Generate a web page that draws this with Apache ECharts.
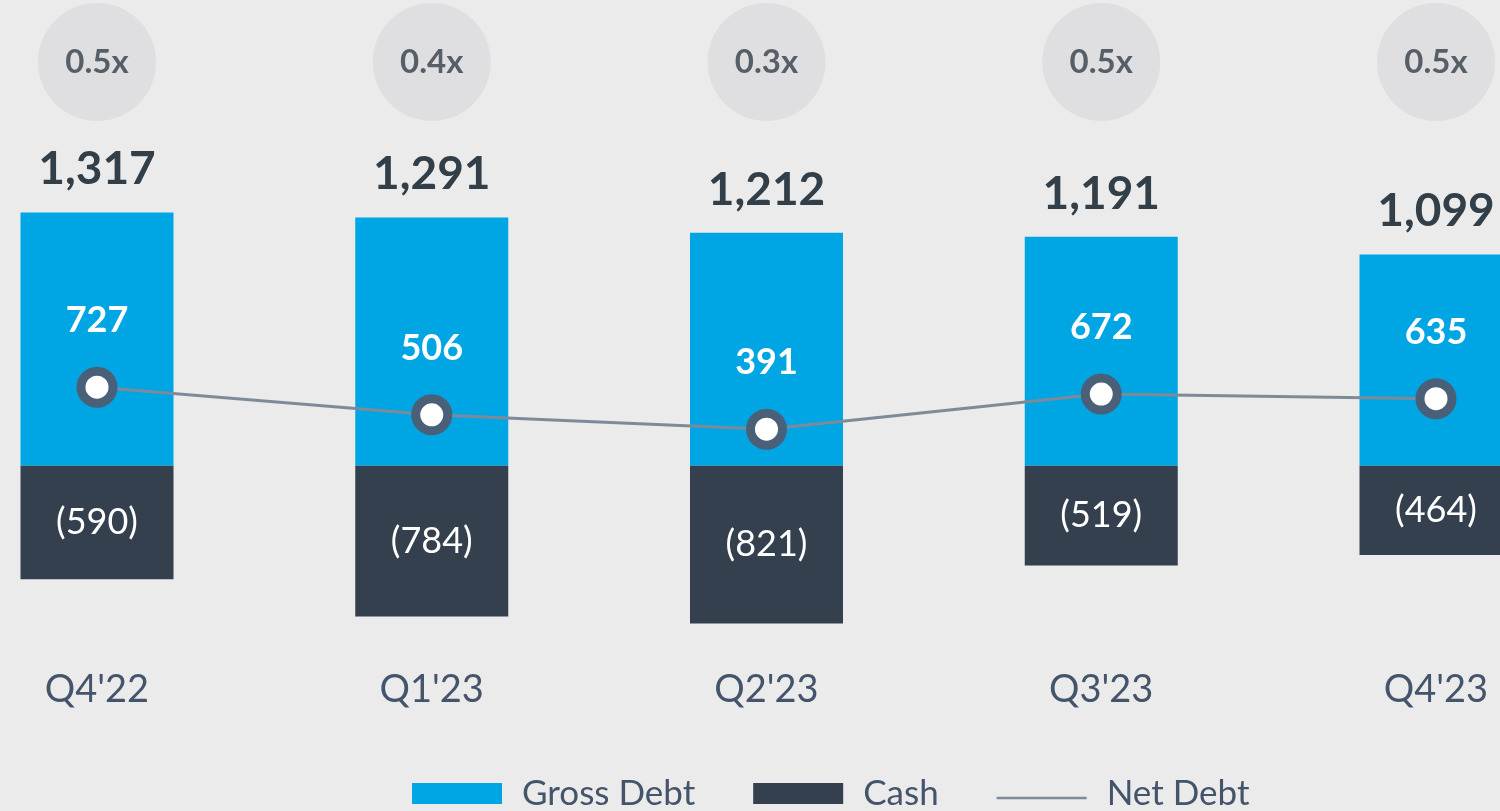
<!DOCTYPE html>
<html>
<head>
<meta charset="utf-8">
<script src="https://cdn.jsdelivr.net/npm/echarts@6/dist/echarts.min.js"></script>
<style>
html,body{margin:0;padding:0;background:#ebebeb;}
#chart{width:1500px;height:811px;}
</style>
</head>
<body>
<div id="chart"></div>
<script>
const categories = ["Q4'22", "Q1'23", "Q2'23", "Q3'23", "Q4'23"];
const grossDebt = [1317, 1291, 1212, 1191, 1099];
const cash = [-590, -784, -821, -519, -464];
const netDebt = [727, 506, 391, 672, 635];
const leverage = ['0.5x', '0.4x', '0.3x', '0.5x', '0.5x'];

const FONT = 'Lato, "Open Sans", sans-serif';
const fmt = v => v.toLocaleString('en-US');

const chart = echarts.init(document.getElementById('chart'), null, {renderer: 'canvas'});
chart.setOption({
  backgroundColor: '#ebebeb',
  animation: false,
  textStyle: {fontFamily: FONT},
  grid: {left: 97, right: 64, top: 62, bottom: 153},
  legend: {
    left: 407, top: 771,
    itemWidth: 90, itemHeight: 21, itemGap: 58,
    textStyle: {fontFamily: FONT, fontSize: 35, color: '#44546a', padding: [0, 0, 0, 15]},
    data: [
      {name: 'Gross Debt', icon: 'rect'},
      {name: 'Cash', icon: 'rect'},
      {name: 'Net Debt', icon: 'path://M0,0M0,14L100,14L100,17L0,17ZM100,21', itemStyle: {color: '#7d8b99', borderWidth: 0}}
    ]
  },
  xAxis: {
    type: 'category',
    data: categories,
    boundaryGap: false,
    axisLine: {show: false},
    axisTick: {show: false},
    splitLine: {show: false},
    axisLabel: {fontFamily: FONT, fontSize: 38, color: '#44546a', margin: 13}
  },
  yAxis: [
    {type: 'value', min: -1000, max: 2100, show: false, splitLine: {show: false}},
    {type: 'value', min: -1440, max: 3330, show: false, splitLine: {show: false}},
    {type: 'value', min: 0, max: 1, show: false, splitLine: {show: false}}
  ],
  series: [
    {
      name: 'Gross Debt',
      type: 'bar',
      stack: 'total',
      barWidth: 153,
      data: grossDebt,
      itemStyle: {color: '#00a5e3'},
      label: {
        show: true, position: 'top', distance: 20,
        fontFamily: FONT, fontSize: 46, fontWeight: 'bold', color: '#333f48',
        formatter: p => fmt(p.value)
      }
    },
    {
      name: 'Cash',
      type: 'bar',
      stack: 'total',
      barWidth: 153,
      data: cash,
      itemStyle: {color: '#34404e'},
      label: {
        show: true, position: 'inside',
        fontFamily: FONT, fontSize: 36, color: '#ffffff',
        formatter: p => '(' + fmt(Math.abs(p.value)) + ')'
      }
    },
    {
      name: 'Net Debt',
      type: 'line',
      yAxisIndex: 1,
      data: netDebt,
      z: 5,
      symbol: 'circle',
      symbolSize: 32,
      lineStyle: {color: '#7d8b99', width: 3},
      itemStyle: {color: '#ffffff', borderColor: '#4a6078', borderWidth: 9},
      label: {
        show: true, position: 'top', distance: 28,
        fontFamily: FONT, fontSize: 36, fontWeight: 'bold', color: '#ffffff',
        formatter: p => fmt(p.value)
      }
    },
    {
      name: 'Leverage',
      type: 'scatter',
      yAxisIndex: 2,
      clip: false,
      symbol: 'circle',
      symbolSize: 118,
      data: leverage.map(() => 1),
      itemStyle: {color: '#dcdcde'},
      label: {
        show: true, position: 'inside',
        fontFamily: FONT, fontSize: 33, fontWeight: 'bold', color: '#333f48',
        formatter: p => leverage[p.dataIndex]
      }
    }
  ]
});
</script>
</body>
</html>
